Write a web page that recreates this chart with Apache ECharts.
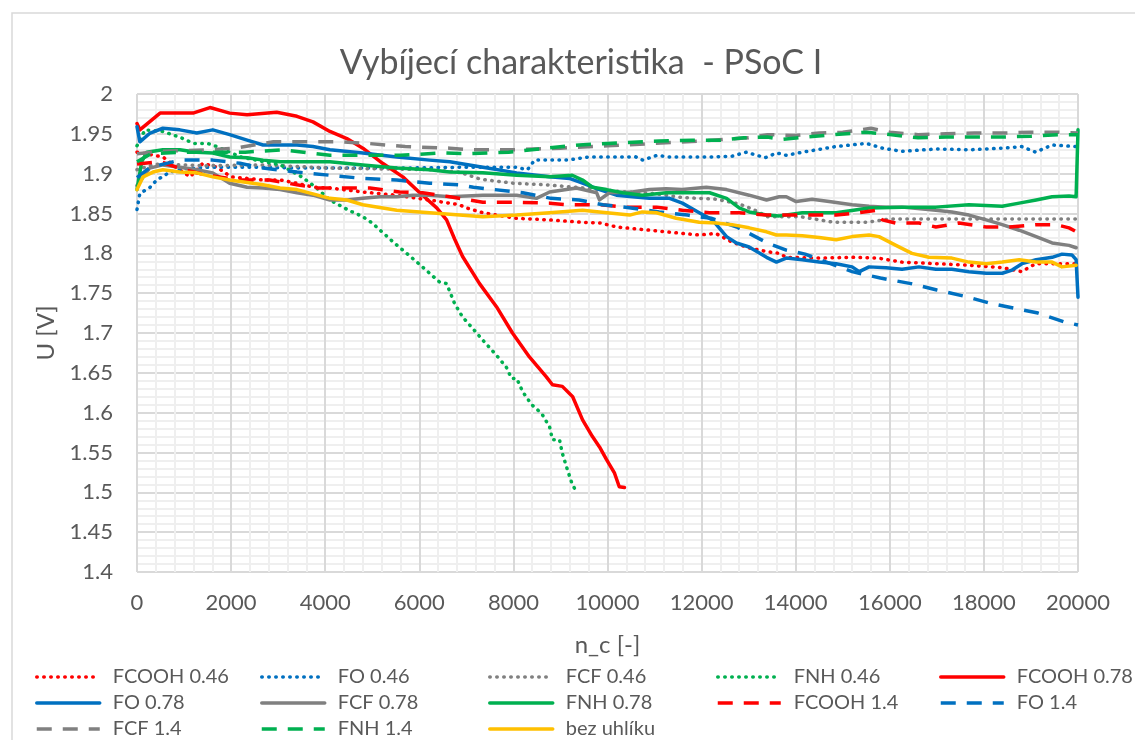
<!DOCTYPE html>
<html>
<head>
<meta charset="utf-8">
<title>Vybíjecí charakteristika - PSoC I</title>
<script src="https://cdn.jsdelivr.net/npm/echarts@6/dist/echarts.min.js"></script>
<style>
  html, body { margin: 0; padding: 0; background: #fff; }
  #chart { width: 1135px; height: 740px; }
</style>
</head>
<body>
<div id="chart"></div>
<script>
// Discharge characteristics: cell voltage U [V] vs. number of cycles n_c

const xTicks = { min: 0, max: 20000, interval: 2000 };
const yTicks = { min: 1.4, max: 2.0, interval: 0.05 };

// [n_c, U] pairs per sample
const fcooh046 = [[0,1.927],[550,1.921],[900,1.905],[1130,1.896],[1400,1.913],[1700,1.908],[2000,1.896],[2350,1.894],[2700,1.892],[3050,1.892],[3400,1.888],[3750,1.883],[4100,1.882],[4800,1.877],[5500,1.873],[6200,1.867],[6850,1.861],[7000,1.857],[7350,1.851],[8050,1.844],[8750,1.842],[9450,1.839],[9850,1.838],[10200,1.833],[10900,1.829],[11600,1.825],[11950,1.823],[12300,1.825],[12650,1.814],[13000,1.807],[13400,1.802],[13650,1.800],[13800,1.795],[14500,1.794],[15200,1.795],[15750,1.794],[16250,1.789],[17000,1.787],[17700,1.785],[18400,1.782],[18800,1.777],[19100,1.787],[19800,1.787],[20000,1.787]];
const fo046 = [[0,1.855],[60,1.875],[280,1.883],[420,1.892],[700,1.902],[1000,1.906],[1500,1.908],[2500,1.908],[3500,1.907],[4100,1.907],[5500,1.907],[6850,1.908],[8050,1.908],[8300,1.905],[8450,1.917],[9150,1.917],[9600,1.921],[10600,1.921],[10750,1.917],[11050,1.923],[11300,1.921],[12200,1.921],[12650,1.922],[12950,1.927],[13350,1.920],[13600,1.926],[13800,1.923],[14150,1.927],[14850,1.934],[15500,1.938],[15850,1.932],[16250,1.928],[17000,1.931],[17700,1.930],[18400,1.932],[18800,1.934],[19100,1.927],[19450,1.936],[19950,1.934]];
const fcf046 = [[0,1.905],[400,1.912],[1500,1.910],[2700,1.911],[4100,1.907],[6200,1.905],[6850,1.902],[7300,1.893],[8000,1.888],[8700,1.886],[9500,1.882],[10200,1.878],[11000,1.875],[11600,1.870],[12300,1.868],[12800,1.862],[13100,1.855],[13400,1.846],[14100,1.846],[14800,1.839],[15500,1.839],[16000,1.843],[17000,1.843],[18000,1.843],[19000,1.843],[20000,1.843]];
const fnh046 = [[0,1.935],[170,1.955],[550,1.953],[900,1.946],[1200,1.938],[1500,1.938],[1700,1.934],[2200,1.921],[2700,1.915],[3050,1.911],[3500,1.896],[3800,1.883],[4100,1.867],[4500,1.854],[4800,1.846],[5000,1.838],[5450,1.814],[5950,1.789],[6430,1.764],[6580,1.762],[6750,1.737],[6920,1.720],[7130,1.706],[7350,1.691],[7640,1.672],[7850,1.657],[7960,1.643],[8070,1.643],[8200,1.626],[8390,1.610],[8600,1.599],[8770,1.582],[8830,1.566],[8980,1.566],[9040,1.549],[9150,1.528],[9240,1.512],[9340,1.500]];
const fcooh078 = [[0,1.963],[60,1.955],[490,1.976],[910,1.976],[1190,1.976],[1550,1.983],[1970,1.976],[2340,1.974],[2970,1.977],[3400,1.972],[3740,1.965],[4100,1.953],[4460,1.944],[4800,1.932],[5220,1.913],[5650,1.896],[6010,1.876],[6370,1.857],[6580,1.842],[6750,1.818],[6920,1.796],[7280,1.762],[7640,1.733],[7980,1.700],[8340,1.670],[8700,1.645],[8830,1.635],[9040,1.633],[9260,1.620],[9470,1.591],[9680,1.570],[9830,1.557],[9980,1.541],[10150,1.524],[10250,1.507],[10360,1.506]];
const fo078 = [[0,1.959],[60,1.940],[280,1.951],[550,1.957],[910,1.955],[1270,1.951],[1610,1.955],[1970,1.949],[2340,1.942],[2680,1.936],[3040,1.936],[3400,1.936],[3740,1.934],[4100,1.930],[4800,1.926],[5520,1.921],[6220,1.917],[6650,1.915],[7350,1.908],[8070,1.901],[8770,1.896],[9190,1.894],[9470,1.888],[9830,1.880],[10190,1.873],[10530,1.871],[10890,1.869],[11320,1.869],[11590,1.863],[11950,1.851],[12230,1.842],[12530,1.821],[12740,1.813],[13010,1.808],[13380,1.795],[13590,1.789],[13800,1.794],[14140,1.792],[14500,1.789],[14860,1.787],[15200,1.783],[15350,1.777],[15560,1.783],[15920,1.782],[16260,1.780],[16620,1.783],[16980,1.780],[17320,1.780],[17680,1.777],[18050,1.775],[18390,1.775],[18600,1.779],[18810,1.787],[19110,1.792],[19450,1.795],[19660,1.799],[19870,1.798],[19960,1.792],[20000,1.745]];
const fcf078 = [[0,1.885],[270,1.907],[550,1.911],[910,1.908],[1270,1.905],[1610,1.901],[1970,1.888],[2340,1.883],[2680,1.882],[3040,1.880],[3400,1.876],[3740,1.873],[4100,1.867],[4460,1.867],[4800,1.869],[5160,1.871],[5520,1.871],[5860,1.873],[6220,1.873],[6650,1.871],[7350,1.873],[8070,1.873],[8490,1.869],[8770,1.877],[9340,1.882],[9770,1.876],[9830,1.867],[10040,1.876],[10530,1.877],[10890,1.880],[11250,1.881],[11590,1.880],[12100,1.883],[12530,1.880],[13010,1.873],[13380,1.867],[13650,1.871],[13800,1.871],[14010,1.865],[14350,1.868],[14710,1.865],[15200,1.861],[15560,1.859],[15920,1.858],[16260,1.858],[16980,1.854],[17320,1.852],[17680,1.848],[18050,1.842],[18390,1.836],[18750,1.829],[19110,1.821],[19450,1.813],[19810,1.810],[19960,1.807]];
const fnh078 = [[0,1.880],[100,1.915],[210,1.927],[550,1.930],[910,1.930],[1270,1.927],[1610,1.926],[1970,1.921],[2340,1.920],[2680,1.917],[3040,1.915],[3400,1.915],[4100,1.915],[4800,1.911],[5520,1.907],[6220,1.905],[6650,1.902],[7350,1.901],[8070,1.898],[8770,1.896],[9250,1.898],[9470,1.892],[9680,1.883],[9980,1.880],[10320,1.876],[10740,1.873],[11250,1.876],[11590,1.876],[12170,1.876],[12530,1.869],[12800,1.857],[13010,1.852],[13380,1.848],[13650,1.847],[14140,1.851],[14860,1.851],[15560,1.857],[16260,1.858],[16980,1.858],[17680,1.861],[18390,1.859],[18750,1.863],[19110,1.867],[19450,1.871],[19810,1.872],[19960,1.871],[20000,1.955]];
const fcooh14 = [[0,1.912],[500,1.915],[1000,1.905],[1490,1.898],[2190,1.892],[2820,1.892],[3400,1.886],[3820,1.882],[4950,1.882],[5580,1.877],[6070,1.876],[6650,1.871],[7350,1.864],[8070,1.864],[8770,1.863],[9130,1.861],[9830,1.861],[10400,1.858],[11040,1.858],[11590,1.854],[12170,1.851],[12800,1.851],[13380,1.848],[14140,1.848],[14860,1.848],[15350,1.851],[15710,1.854],[15840,1.842],[16130,1.838],[16620,1.838],[16980,1.833],[17470,1.838],[18050,1.833],[18530,1.833],[19110,1.836],[19530,1.836],[19810,1.832],[20000,1.826]];
const fo14 = [[0,1.895],[280,1.908],[910,1.917],[1610,1.917],[2190,1.913],[2680,1.907],[3400,1.902],[4100,1.898],[4800,1.894],[5520,1.892],[6220,1.888],[6860,1.886],[7150,1.883],[7600,1.880],[8200,1.876],[8800,1.869],[9400,1.867],[9900,1.861],[10500,1.857],[11100,1.852],[11700,1.848],[12200,1.844],[12750,1.833],[13400,1.813],[13800,1.804],[14200,1.799],[15200,1.777],[15800,1.769],[16450,1.762],[17000,1.754],[17600,1.746],[18150,1.737],[18650,1.731],[19150,1.725],[19700,1.714],[20000,1.710]];
const fcf14 = [[0,1.925],[500,1.928],[1600,1.930],[2100,1.932],[2900,1.940],[4300,1.940],[4900,1.938],[5700,1.934],[6650,1.932],[7100,1.930],[8000,1.930],[9000,1.932],[10000,1.935],[11000,1.938],[12000,1.941],[13000,1.945],[13400,1.949],[14000,1.948],[14500,1.951],[15000,1.952],[15600,1.957],[16000,1.952],[16600,1.949],[17200,1.950],[17800,1.951],[18400,1.951],[19000,1.952],[19600,1.952],[20000,1.951]];
const fnh14 = [[0,1.915],[300,1.925],[1000,1.927],[2300,1.927],[3100,1.930],[4100,1.923],[5600,1.923],[6500,1.926],[7000,1.925],[7900,1.927],[8700,1.932],[9400,1.936],[10000,1.938],[11100,1.941],[11800,1.942],[12400,1.942],[12900,1.945],[13400,1.946],[13700,1.943],[14200,1.946],[14800,1.949],[15500,1.952],[16000,1.949],[16600,1.945],[17200,1.946],[17800,1.946],[18400,1.946],[19000,1.947],[19600,1.949],[20000,1.949]];
const bezUhliku = [[0,1.880],[130,1.896],[340,1.902],[550,1.905],[910,1.902],[1270,1.901],[1610,1.896],[1970,1.892],[2680,1.886],[3040,1.882],[3400,1.880],[4100,1.869],[4460,1.867],[4800,1.861],[5520,1.854],[6220,1.851],[6860,1.848],[7350,1.846],[8070,1.848],[8770,1.851],[9470,1.854],[9830,1.852],[10470,1.848],[10740,1.852],[11040,1.851],[11460,1.844],[11950,1.839],[12310,1.838],[12650,1.836],[13010,1.832],[13380,1.827],[13590,1.823],[13800,1.823],[14140,1.822],[14500,1.820],[14860,1.817],[15200,1.821],[15560,1.823],[15770,1.821],[16130,1.810],[16470,1.800],[16830,1.795],[17320,1.794],[17680,1.789],[18050,1.787],[18390,1.789],[18750,1.792],[19110,1.789],[19450,1.789],[19660,1.783],[19960,1.785]];

const seriesNames = ['FCOOH 0.46','FO 0.46','FCF 0.46','FNH 0.46','FCOOH 0.78','FO 0.78','FCF 0.78','FNH 0.78','FCOOH 1.4','FO 1.4','FCF 1.4','FNH 1.4','bez uhlíku'];
const seriesData = [fcooh046, fo046, fcf046, fnh046, fcooh078, fo078, fcf078, fnh078, fcooh14, fo14, fcf14, fnh14, bezUhliku];

// styling
const RED = '#FF0000', BLUE = '#0070C0', GREY = '#808080', GREEN = '#00B050', YELLOW = '#FFC000';
const colors = [RED, BLUE, GREY, GREEN, RED, BLUE, GREY, GREEN, RED, BLUE, GREY, GREEN, YELLOW];
const DOT = { type: [0.5, 6.5], cap: 'round', width: 3.5 };
const SOLID = { type: 'solid', cap: 'round', join: 'round', width: 3.5 };
const DASH = { type: [15, 11], cap: 'butt', width: 3.5 };
const styles = [DOT, DOT, DOT, DOT, SOLID, SOLID, SOLID, SOLID, DASH, DASH, DASH, DASH, SOLID];

const FONT = 'Lato, "Open Sans", sans-serif';
const TEXT = '#595959';

const legendCols = [35, 260, 488, 716, 939];
const legendRows = [667, 693, 719];

const chart = echarts.init(document.getElementById('chart'), null, { renderer: 'canvas' });

chart.setOption({
  animation: false,
  backgroundColor: '#ffffff',
  textStyle: { fontFamily: FONT },
  title: {
    text: 'Vybíjecí charakteristika  - PSoC I',
    left: 576,
    top: 41,
    textAlign: 'center',
    textStyle: { fontFamily: FONT, fontSize: 34, fontWeight: 'normal', color: TEXT }
  },
  graphic: [{
    type: 'rect',
    shape: { x: 12, y: 13, width: 1140, height: 760 },
    style: { fill: 'none', stroke: '#d9d9d9', lineWidth: 1.5 },
    silent: true, z: -1
  }],
  grid: { left: 137, right: 57, top: 94, bottom: 168, containLabel: false },
  xAxis: {
    type: 'value',
    min: xTicks.min, max: xTicks.max, interval: xTicks.interval,
    name: 'n_c [-]',
    nameLocation: 'middle',
    nameGap: 61,
    nameTextStyle: { fontFamily: FONT, fontSize: 24, color: TEXT },
    axisLine: { show: false },
    axisTick: { show: false },
    axisLabel: { margin: 20, fontFamily: FONT, fontSize: 22, color: TEXT, formatter: (v) => String(v) },
    splitLine: { show: true, lineStyle: { color: '#d9d9d9', width: 2 } },
    minorTick: { show: false, splitNumber: 5 },
    minorSplitLine: { show: true, lineStyle: { color: '#efefef', width: 2 } }
  },
  yAxis: {
    type: 'value',
    min: yTicks.min, max: yTicks.max, interval: yTicks.interval,
    name: 'U [V]',
    nameLocation: 'middle',
    nameGap: 70,
    nameRotate: 90,
    nameTextStyle: { fontFamily: FONT, fontSize: 24, color: TEXT },
    axisLine: { show: false },
    axisTick: { show: false },
    axisLabel: { margin: 24, fontFamily: FONT, fontSize: 22, color: TEXT },
    splitLine: { show: true, lineStyle: { color: '#d9d9d9', width: 2 } },
    minorTick: { show: false, splitNumber: 5 },
    minorSplitLine: { show: true, lineStyle: { color: '#efefef', width: 2 } }
  },
  legend: seriesNames.map((name, i) => ({
    data: [name],
    left: legendCols[i % 5],
    top: legendRows[Math.floor(i / 5)],
    itemWidth: 63,
    itemHeight: 22,
    padding: 0,
    selectedMode: false,
    itemStyle: { opacity: 0 },
    lineStyle: { width: 3.5 },
    textStyle: { fontFamily: FONT, fontSize: 20, color: TEXT, padding: [0, 0, 0, 8] }
  })),
  series: seriesNames.map((name, i) => ({
    name,
    type: 'line',
    data: seriesData[i],
    showSymbol: false,
    symbol: 'none',
    smooth: false,
    clip: true,
    color: colors[i],
    lineStyle: Object.assign({ color: colors[i] }, styles[i])
  }))
});
</script>
</body>
</html>
